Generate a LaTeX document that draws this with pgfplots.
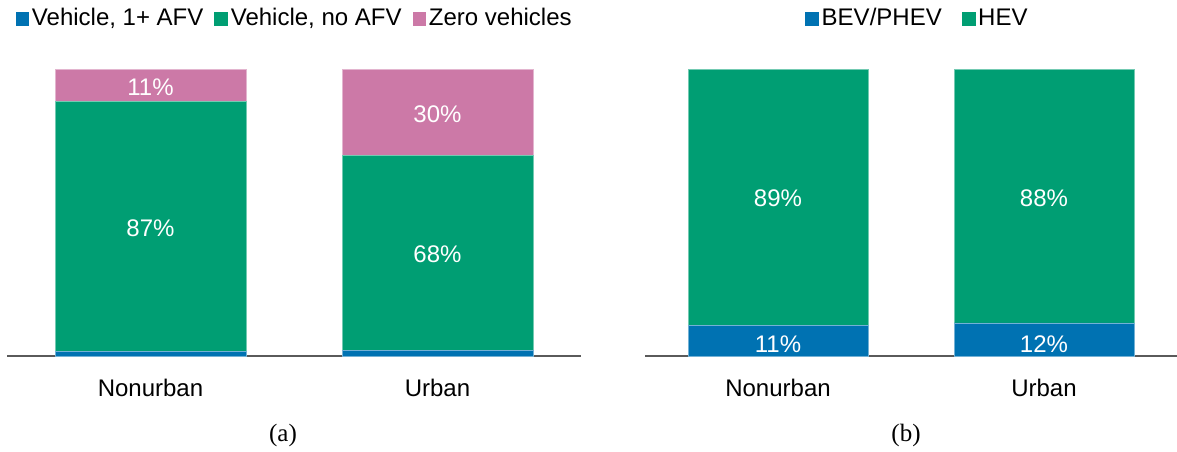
\documentclass[border=0pt]{standalone}
\usepackage{fontspec}
\setmainfont{Liberation Sans}
\newfontfamily\capfont{Liberation Serif}
\usepackage{pgfplots}
\pgfplotsset{compat=1.18}
\definecolor{cblue}{HTML}{0072B2}
\definecolor{cgreen}{HTML}{009E73}
\definecolor{cpink}{HTML}{CC79A7}
\definecolor{axgray}{HTML}{5A5A5A}
\begin{document}
\fontsize{12}{14.4}\selectfont
\begin{tikzpicture}
\path[use as bounding box] (0,0) rectangle (588.5pt,225.5pt);
\pgfplotsset{
  geom/.style={scale only axis, height=143.5pt,
    ymin=0, ymax=100, xmin=-0.5, xmax=1.5, clip=false},
  panel/.style={
    geom,
    ybar stacked,
    axis y line=none, axis x line*=bottom,
    x axis line style={draw=axgray, line width=1.3pt, -},
    xtick={0,1}, xticklabels={Nonurban,Urban},
    major tick length=0pt,
    xticklabel style={anchor=base, yshift=-20pt, text=black},
    legend columns=-1,
  },
  overlay/.style={geom, hide axis},
  seg/.style={fill=#1, draw=#1!55!white, line width=0.3pt,
    legend image code/.code={\fill[#1] (0pt,-3.2pt) rectangle (6.4pt,3.2pt);}},
  labs/.style={draw=none, mark=none, nodes near coords, point meta=explicit symbolic,
    nodes near coords align={center},
    every node near coord/.append style={text=white, anchor=center, yshift=-0.8pt}},
}
% ---------- panel (a)
\begin{axis}[panel, at={(3.5pt,47.5pt)}, anchor=south west, width=287pt, bar width=95.5pt,
  legend style={at={(0.502,1.174)}, anchor=center, draw=none, fill=none,
    /tikz/every even column/.append style={column sep=4pt},
    nodes={inner sep=1.5pt}}]
\addplot[seg=cblue] coordinates {(0,1.5) (1,2.0)};
\addlegendentry{Vehicle, 1+ AFV}
\addplot[seg=cgreen] coordinates {(0,87.2) (1,67.8)};
\addlegendentry{Vehicle, no AFV}
\addplot[seg=cpink] coordinates {(0,11.3) (1,30.2)};
\addlegendentry{Zero vehicles}
\end{axis}
\begin{axis}[overlay, at={(3.5pt,47.5pt)}, anchor=south west, width=287pt]
\addplot[labs] coordinates {(0,94.35) [11\%] (0,45.1) [87\%] (1,84.9) [30\%] (1,35.9) [68\%]};
\end{axis}
% ---------- panel (b)
\begin{axis}[panel, at={(322.5pt,47.5pt)}, anchor=south west, width=266pt, bar width=90pt,
  legend style={at={(0.513,1.174)}, anchor=center, draw=none, fill=none,
    /tikz/every even column/.append style={column sep=8.5pt},
    nodes={inner sep=1.5pt}}]
\addplot[seg=cblue] coordinates {(0,10.8) (1,11.5)};
\addlegendentry{BEV/PHEV}
\addplot[seg=cgreen] coordinates {(0,89.2) (1,88.5)};
\addlegendentry{HEV}
\end{axis}
\begin{axis}[overlay, at={(322.5pt,47.5pt)}, anchor=south west, width=266pt]
\addplot[labs] coordinates {(0,4.6) [11\%] (1,4.8) [12\%] (0,55.5) [89\%] (1,55.5) [88\%]};
\end{axis}
\node[font=\capfont\fontsize{12.5}{15}\selectfont] at (141.5pt,8pt) {(a)};
\node[font=\capfont\fontsize{12.5}{15}\selectfont] at (453pt,8pt) {(b)};
\end{tikzpicture}
\end{document}
